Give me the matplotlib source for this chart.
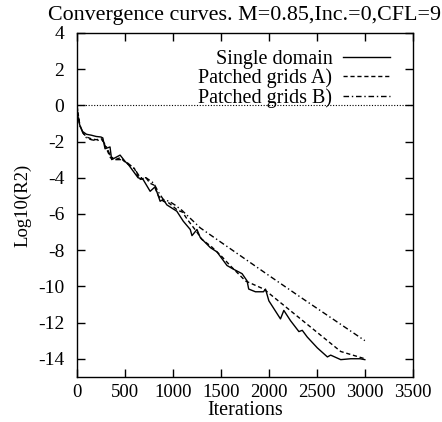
import matplotlib
matplotlib.use("Agg")
import matplotlib.pyplot as plt

plt.rcParams['font.family'] = ['Liberation Serif', 'DejaVu Serif']
plt.rcParams['axes.unicode_minus'] = False

title = "Convergence curves. M=0.85,Inc.=0,CFL=9"
xlabel = "Iterations"
ylabel = "Log10(R2)"
xticks = [0, 500, 1000, 1500, 2000, 2500, 3000, 3500]
yticks = [-14, -12, -10, -8, -6, -4, -2, 0, 2, 4]

single_it = [0, 10, 30, 60, 100, 150, 200, 250, 270, 293, 345, 362, 450, 502, 540,
             637, 690, 763, 815, 867, 900, 937, 1041, 1108, 1181, 1199, 1251, 1285,
             1390, 1460, 1564, 1630, 1721, 1773, 1790, 1860, 1944, 1965, 2000, 2121,
             2156, 2226, 2313, 2348, 2400, 2505, 2610, 2644, 2749, 2853, 2950, 3000]
single_val = [0, -0.6, -1.1, -1.45, -1.6, -1.65, -1.72, -1.75, -1.8, -2.4, -2.3, -3.0,
              -2.75, -3.1, -3.3, -4.0, -4.1, -4.75, -4.5, -5.3, -5.2, -5.5, -5.85, -6.4,
              -6.86, -7.2, -6.86, -7.3, -7.86, -8.1, -8.85, -9.05, -9.3, -9.7, -10.15,
              -10.3, -10.3, -10.15, -10.8, -11.8, -11.33, -11.9, -12.5, -12.43, -12.8,
              -13.4, -13.9, -13.8, -14.05, -14.0, -14.0, -14.05]

patchA_it = [0, 30, 60, 100, 150, 200, 260, 300, 350, 400, 450, 520, 600, 650, 720,
             760, 800, 850, 900, 960, 1050, 1100, 1150, 1250, 1300, 1400, 1500, 1600,
             1756, 1947, 2400, 2749, 2937, 3000]
patchA_val = [0, -1.1, -1.5, -1.75, -1.85, -1.9, -1.85, -2.3, -2.9, -3.0, -2.9, -3.2,
              -3.5, -4.1, -4.0, -4.3, -4.4, -5.0, -5.3, -5.4, -5.8, -5.9, -6.3, -7.0,
              -7.4, -7.8, -8.3, -8.87, -9.7, -10.15, -12.1, -13.6, -13.9, -14.0]

patchB_it = [0, 30, 60, 100, 150, 200, 260, 300, 350, 400, 470, 520, 600, 660, 720,
             800, 850, 900, 960, 1020, 1094, 1285, 2000, 2330, 3000]
patchB_val = [0, -1.1, -1.5, -1.8, -1.9, -1.95, -1.9, -2.2, -2.8, -3.0, -3.0, -3.15,
              -3.5, -4.0, -4.0, -4.3, -4.8, -5.2, -5.3, -5.5, -5.8, -6.77, -9.4, -10.6,
              -13.0]

fig = plt.figure(figsize=(4.42, 4.22), dpi=100)
ax = fig.add_axes([0.174, 0.107, 0.760, 0.815])

ax.axhline(0, color='black', lw=0.8, ls=(0, (1, 1.5)))
ax.plot(single_it, single_val, color='black', lw=1.0, ls='-', label='Single domain')
ax.plot(patchA_it, patchA_val, color='black', lw=1.0, ls=(0, (3, 2)), label='Patched grids A)')
ax.plot(patchB_it, patchB_val, color='black', lw=1.0, ls=(0, (4, 2, 1, 2)), label='Patched grids B)')

ax.set_xlim(0, 3500)
ax.set_ylim(-15, 4)
ax.set_xticks(xticks)
ax.set_yticks(yticks)
ax.tick_params(direction='in', top=True, right=True, labelsize=14, length=6, width=1)
ax.tick_params(axis='x', pad=5, labelsize=13.5)
ax.tick_params(axis='y', pad=9)
for s in ax.spines.values():
    s.set_linewidth(1.0)

ax.set_title(title, fontsize=15.8, pad=9)
ax.set_xlabel(xlabel, fontsize=14.5, labelpad=0)
ax.set_ylabel(ylabel, fontsize=13.5, labelpad=5)

leg = ax.legend(loc='upper right', frameon=False, markerfirst=False, fontsize=14.5,
                handlelength=2.3, borderaxespad=0.0, labelspacing=0.0,
                handletextpad=0.55, bbox_to_anchor=(0.955, 0.975))
for t in leg.get_texts():
    t.set_ha('right')
leg._legend_box.align = 'right'

fig.savefig('out.png', dpi=100)
